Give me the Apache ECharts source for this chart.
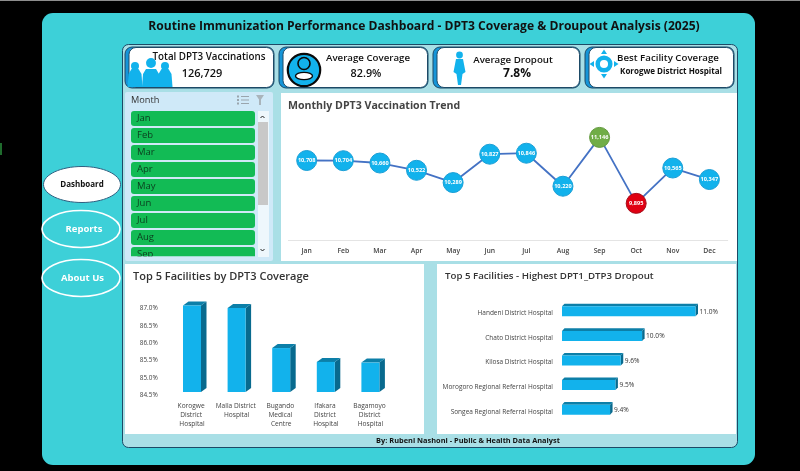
<!DOCTYPE html>
<html><head><meta charset="utf-8">
<style>html,body{margin:0;padding:0;background:#000;overflow:hidden}#c{width:800px;height:471px}</style>
<script src="https://cdn.jsdelivr.net/npm/echarts@6/dist/echarts.min.js"></script>
</head><body><div id="c"></div>
<script>
// ---------- data ----------
const dashboardTitle = 'Routine Immunization Performance Dashboard - DPT3 Coverage & Droupout Analysis (2025)';
const months = ['Jan','Feb','Mar','Apr','May','Jun','Jul','Aug','Sep','Oct','Nov','Dec'];
const monthlyVaccinations = [10708,10704,10660,10522,10289,10827,10846,10220,11146,9895,10565,10347];
const coverageFacilities = ['Korogwe District Hospital','Malla District Hospital','Bugando Medical Centre','Ifakara District Hospital','Bagamoyo District Hospital'];
const coverageValues = [87.0,86.93,85.77,85.37,85.35];
const dropoutFacilities = ['Handeni District Hospital','Chato District Hospital','Kilosa District Hospital','Morogoro Regional Referral Hospital','Songea Regional Referral Hospital'];
const dropoutValues = [11.0,10.0,9.6,9.5,9.4];
const slicerMonths = ['Jan','Feb','Mar','Apr','May','Jun','Jul','Aug','Sep'];

// ---------- palette / fonts ----------
const FONT='"Open Sans", sans-serif';
const BLUE='#12b2ec', BLUE_D='#0c7fa8', BLUE_DD='#086a8e', TEAL='#3dd0d8', PANEL='#a9dfe6', INK='#1c1c1c';
const maxIdx = monthlyVaccinations.indexOf(Math.max(...monthlyVaccinations));
const minIdx = monthlyVaccinations.indexOf(Math.min(...monthlyVaccinations));

// ---------- static dashboard chrome ----------
const rect=(x,y,w,h,fill,r=0,stroke,lw=1,z=0)=>({type:'rect',z,silent:true,shape:{x,y,width:w,height:h,r},style:{fill,stroke,lineWidth:lw}});
const text=(x,y,t,size,weight,fill,align='left',z=5,fam=FONT)=>({type:'text',z,silent:true,x,y,style:{text:t,font:`${weight} ${size}px ${fam}`,fill,textAlign:align,textVerticalAlign:'middle'}});
const ell=(cx,cy,rx,ry,fill,stroke,lw,z=2)=>({type:'ellipse',z,silent:true,shape:{cx,cy,rx,ry},style:{fill,stroke,lineWidth:lw}});
const pg=(points,fill,z=6)=>({type:'polygon',z,silent:true,shape:{points},style:{fill}});
const circ=(cx,cy,r,fill,stroke,lw,z=6)=>({type:'circle',z,silent:true,shape:{cx,cy,r},style:{fill,stroke,lineWidth:lw}});

const g=[];
g.push(rect(0,0,800,471,'#000'));
g.push(rect(0,0,800,1,'#8d8d8d'));
g.push(rect(0,143,2,12,'#1f6b2d'));
g.push(rect(42,13,713,452,TEAL,11));
g.push(text(424,27,dashboardTitle,12.1,'700','#111','center'));
g.push(rect(122.5,44.5,615,403,PANEL,6,'#1d4a66',1,1));
// nav
g.push(ell(82,184.5,38.5,18,'#fff','#2f5f80',1));
g.push(text(82,184.5,'Dashboard',8,'700','#111','center'));
g.push(ell(81,229,39,18.5,TEAL,'#fff',1.6));
g.push(text(84,229,'Reports',9.5,'700','#fff','center'));
g.push(ell(81,278,39,18.5,TEAL,'#fff',1.6));
g.push(text(82.5,278,'About Us',9.5,'700','#fff','center'));
// KPI cards
[[125,149],[279,149],[433,147],[585,149]].forEach(([x,w])=>{
  g.push(rect(x,47,w,41,'#1695d8',7,'#1d4a66',1,2));
  g.push(rect(x+4,47.5,w-4.5,40,'#fff',7,'#1d4a66',1,3));
});
g.push(text(209,57,'Total DPT3 Vaccinations',9.8,'600','#111','center'));
g.push(text(202,74,'126,729',11,'600','#111','center'));
g.push(text(368,58.5,'Average Coverage',9.7,'600','#111','center'));
g.push(text(366,74,'82.9%',10.8,'600','#111','center'));
g.push(text(513,60,'Average Dropout',9.7,'600','#111','center'));
g.push(text(517,74,'7.8%',12,'700','#111','center'));
g.push(text(668,58,'Best Facility Coverage',9.7,'600','#111','center'));
g.push(text(671,71.5,'Korogwe District Hospital',8,'700','#111','center'));
// people icon
[[135,87,6.5],[151,87,8],[165,87,6.5]].forEach(([cx,b,r])=>{
  g.push(circ(cx,b-(r===8?24:21),r*0.62,BLUE));
  g.push(pg([[cx-r-1,b],[cx-r,b-13],[cx-r+3,b-18],[cx+r-3,b-18],[cx+r,b-13],[cx+r+1,b]],BLUE));
});
// person icon
g.push(circ(304,70,16.2,BLUE,'#0a0a0a',2.2));
g.push(circ(304,63.5,6,BLUE,'#0a0a0a',1.6,7));
g.push(ell(304,76,8.5,3.6,'#fff','#0a0a0a',1.4,7));
// woman icon
g.push(circ(459.5,55,3.4,BLUE));
g.push(pg([[456,59],[463,59],[465.5,72],[462.5,74],[461,85],[458,85],[456.5,74],[453.5,72]],BLUE));
// target icon
g.push(circ(604,64,6.3,'#fff',BLUE,4.5));
g.push(pg([[601,54],[607,54],[604,49.5]],BLUE));
g.push(pg([[601,74],[607,74],[604,78.5]],BLUE));
g.push(pg([[594,61],[594,67],[589.5,64]],BLUE));
g.push(pg([[614,61],[614,67],[618.5,64]],BLUE));
// slicer
g.push(rect(125,92,148,169,'#cfe9f8',2,null,0,2));
g.push(text(131,100,'Month',9.2,'400','#333','left',5));
const rowTop=111, rowStep=17, rowH=15;
slicerMonths.forEach((m,i)=>{
  const y=rowTop+i*rowStep, h=Math.min(rowH,256.5-y);
  g.push(rect(131,y,124,h,'#12bb55',i===8?[3,3,0,0]:3,null,0,3));
  g.push({type:'text',z:5,silent:true,x:137,y:y+7.5,style:{text:m,font:`400 9.5px ${FONT}`,fill:'#0b3d1e',textVerticalAlign:'middle'}});
});
g.push(rect(131,256.5,124,4,'#cfe9f8',0,null,0,6));
g.push(rect(258,111,11,146,'#eef7fc',0,null,0,3));
g.push(rect(258,122,10,83,'#c8c8c8',0,null,0,4));
g.push({type:'polyline',z:5,silent:true,shape:{points:[[260.5,118],[262.5,116],[264.5,118]]},style:{stroke:'#222',lineWidth:1,fill:null}});
g.push({type:'polyline',z:5,silent:true,shape:{points:[[260.5,249],[262.5,251],[264.5,249]]},style:{stroke:'#222',lineWidth:1,fill:null}});
[96,99.5,103].forEach(y=>g.push(rect(241,y,8,1,'#9aa5ad',0,null,0,5)));
[96,99.5,103].forEach(y=>g.push(rect(237,y-.5,2,2,'#9aa5ad',0,null,0,5)));
g.push(pg([[256,95],[264,95],[261,99.5],[261,105],[259,105],[259,99.5]],'#a9b4bb'));
// chart panels
g.push(rect(281,93,456,168,'#fff',0,null,0,2));
g.push(rect(125,264,299,170,'#fff',0,null,0,2));
g.push(rect(437,264,299,170,'#fff',0,null,0,2));
g.push(text(288,106,'Monthly DPT3 Vaccination Trend',10.6,'700','#444'));
g.push(text(133,276.5,'Top 5 Facilities by DPT3 Coverage',11,'600','#333'));
g.push(text(445,276.5,'Top 5 Facilities - Highest DPT1_DTP3 Dropout',9.7,'600','#333'));
g.push(text(468,441,'By: Rubeni Nashoni - Public & Health Data Analyst',7.4,'700','#111','center'));

// ---------- 3-D extrusions driven by the data scales ----------
const poly=(pts,fill)=>({type:'polygon',shape:{points:pts},style:{fill}});
const depthV=(params,api)=>{
  const p=api.coord([api.value(0),api.value(1)]), b=api.coord([api.value(0),84.5]);
  const w=18,dx=5.5,dy=4,l=p[0]-w/2,r=p[0]+w/2;
  return {type:'group',children:[
    poly([[r,p[1]],[r+dx,p[1]-dy],[r+dx,b[1]-dy],[r,b[1]]],BLUE_DD),
    poly([[l,p[1]],[l+dx,p[1]-dy],[r+dx,p[1]-dy],[r,p[1]]],BLUE_D)]};
};
const depthH=(params,api)=>{
  const p=api.coord([api.value(0),api.value(1)]), b=api.coord([8.5,api.value(1)]);
  const h=10,dx=2.5,dy=2.6,t=p[1]-h/2,bt=p[1]+h/2;
  return {type:'group',children:[
    poly([[p[0],t],[p[0]+dx,t-dy],[p[0]+dx,bt-dy],[p[0],bt]],BLUE_DD),
    poly([[b[0],t],[b[0]+dx,t-dy],[p[0]+dx,t-dy],[p[0],t]],BLUE_D)]};
};

const chart=echarts.init(document.getElementById('c'),null,{renderer:'canvas',width:800,height:471});
chart.setOption({
  animation:false,
  textStyle:{fontFamily:FONT},
  graphic:{elements:g},
  grid:[
    {left:288.4,width:439.3,top:124,height:116},
    {left:169.7,width:223,top:305.5,height:86.5},
    {left:562,width:133.5,top:299,height:123}
  ],
  xAxis:[
    {gridIndex:0,z:10,type:'category',data:months,boundaryGap:true,axisTick:{show:false},
     axisLine:{lineStyle:{color:'#e4e4e4'}},axisLabel:{color:'#444',fontSize:6.8,fontWeight:600,margin:8}},
    {gridIndex:1,z:10,type:'category',data:coverageFacilities,axisTick:{show:false},axisLine:{show:false},
     axisLabel:{color:'#444',fontSize:6.6,lineHeight:9,margin:10,interval:0,width:42,overflow:'break'}},
    {gridIndex:2,type:'value',min:8.5,max:11,show:false}
  ],
  yAxis:[
    {gridIndex:0,type:'value',min:9200,max:11400,show:false},
    {gridIndex:1,z:10,type:'value',min:84.5,max:87,interval:0.5,axisLine:{show:false},axisTick:{show:false},splitLine:{show:false},
     axisLabel:{color:'#444',fontSize:6.4,margin:12,verticalAlign:'top',lineHeight:6,formatter:v=>v.toFixed(1)+'%'}},
    {gridIndex:2,z:10,type:'category',data:dropoutFacilities,inverse:true,axisLine:{show:false},axisTick:{show:false},
     axisLabel:{color:'#444',fontSize:6.5,margin:9,verticalAlign:'top',lineHeight:4,interval:0}}
  ],
  series:[
    {type:'line',xAxisIndex:0,yAxisIndex:0,z:5,symbol:'circle',symbolSize:20,
     lineStyle:{color:'#4472c4',width:1.8},
     itemStyle:{color:BLUE,borderColor:'#1b9fd6',borderWidth:1,opacity:1},
     label:{show:true,position:'inside',color:'#fff',fontSize:5.6,fontWeight:700,formatter:p=>p.value.toLocaleString('en-US')},
     data:monthlyVaccinations.map((v,i)=>({value:v,itemStyle:i===maxIdx?{color:'#70ad47',borderColor:'#62993d'}:i===minIdx?{color:'#e00012',borderColor:'#a50f1c'}:undefined}))},
    {type:'custom',xAxisIndex:1,yAxisIndex:1,z:3,clip:false,silent:true,renderItem:depthV,
     encode:{x:0,y:1},data:coverageFacilities.map((c,i)=>[i,coverageValues[i]])},
    {type:'bar',xAxisIndex:1,yAxisIndex:1,z:4,barWidth:18,clip:true,data:coverageValues,itemStyle:{color:BLUE}},
    {type:'custom',xAxisIndex:2,yAxisIndex:2,z:3,clip:false,silent:true,renderItem:depthH,
     encode:{x:0,y:1},data:dropoutFacilities.map((c,i)=>[dropoutValues[i],i])},
    {type:'bar',xAxisIndex:2,yAxisIndex:2,z:4,barWidth:10,clip:true,data:dropoutValues,itemStyle:{color:BLUE},
     label:{show:true,position:'right',distance:4,offset:[0,0.5],color:'#333',fontSize:6.6,formatter:p=>p.value.toFixed(1)+'%'}}
  ]
});
</script></body></html>
